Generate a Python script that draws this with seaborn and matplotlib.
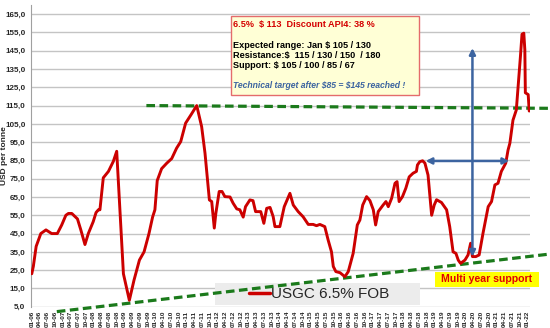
import matplotlib
matplotlib.use("Agg")
import matplotlib.pyplot as plt
from matplotlib.patches import Rectangle
import numpy as np
import pandas as pd
import seaborn as sns

# Months elapsed since January 2006 and USGC 6.5% FOB price (USD per tonne)
months = [0, 0.6, 1.7, 3.5, 5.5, 7.7, 9.9, 11.6, 13.2, 14.2, 15.5, 17.7, 19.0,
          20.6, 21.9, 23.8, 24.9, 25.8, 26.4, 27.7, 29.7, 31.6, 32.9, 35.5,
          37.8, 39.6, 41.7, 43.5, 45.4, 46.8, 47.7, 48.6, 50.3, 52.3, 54.2,
          56.1, 57.7, 59.6, 61.7, 63.9, 65.8, 67.1, 68.8, 69.7, 70.7, 71.3,
          72.6, 73.7, 74.8, 76.8, 78.0, 79.4, 80.6, 81.9, 82.8, 84.5, 85.7,
          86.7, 88.7, 89.9, 91.0, 92.3, 93.5, 94.2, 96.1, 97.8, 100.0, 101.3,
          103.2, 105.1, 107.1, 109.0, 110.3, 111.6, 113.5, 114.8, 116.1,
          116.8, 117.8, 119.4, 121.3, 122.6, 124.5, 126.1, 127.1, 128.2,
          129.7, 131.0, 132.3, 133.2, 134.2, 136.1, 137.2, 138.1, 139.4,
          140.7, 141.5, 142.3, 143.6, 144.9, 146.2, 147.7, 149.0, 149.4,
          150.3, 151.4, 152.3, 153.5, 154.9, 155.9, 156.8, 158.7, 160.7,
          161.9, 163.2, 164.3, 165.2, 166.1, 167.8, 169.0, 170.0, 170.7,
          172.0, 173.3, 174.8, 176.8, 178.1, 179.4, 180.6, 181.9, 183.6,
          184.5, 185.2, 186.4, 187.7, 188.3, 189.3, 189.9, 190.6, 191.0,
          191.2, 192.3, 192.7]
price = [23, 27, 38, 45, 47, 45, 45, 49.7, 55, 56, 56, 53, 47,
         39, 45, 51.5, 56.5, 58, 58, 75.5, 79, 84.5, 90, 23,
         8.5, 19.5, 30.5, 35, 45, 54, 58, 74, 80.5, 83.5, 86,
         91.7, 95.3, 105.4, 110, 115, 103.5, 89, 63.4, 62.5, 48, 56,
         68, 68, 65.2, 65, 61.6, 58.5, 58, 54, 59.7, 63.4, 63,
         57, 57, 50.6, 58.8, 59.3, 54.3, 48.8, 48.8, 59.7, 67, 60.6,
         57, 54.2, 50, 50, 49.3, 50, 48.8, 41.5, 35,
         27, 24.2, 23.6, 21.4, 24.2, 34.2, 49.7, 52.4, 60.6,
         65.2, 63, 58, 49.7, 57, 60.6, 62.5, 59.7, 64.3,
         72.5, 73.4, 62.5, 65.2, 69.8, 76, 78, 79, 82.5,
         84.3, 84.8, 83.5, 77, 55, 60.6, 63.5, 62, 58,
         48.8, 35, 34.2, 30.5, 28.7, 30.5, 33.3, 39.7, 32.4,
         32.4, 33.3, 45.2, 59.7, 62.5, 71.6, 72.5, 79, 83.5,
         90.7, 94.4, 107, 112.6, 123.6, 142, 154, 154.6, 145.5,
         122, 121, 112]

# Quarterly tick labels (MM-YY)
tick_months = list(range(0, 193, 3))
tick_labels = [f"{(m % 12) + 1:02d}-{(6 + m // 12) % 100:02d}" for m in tick_months]
y_ticks = list(range(5, 166, 10))

# Technical levels
resistance_x = [44.4, 200.0]
resistance_y = [115.0, 113.5]
support_x = [9.7, 200.7]
support_y = [2.3, 33.8]
target_x = 170.7
target_y = [32.4, 146.4]
breakout_x = [152.6, 184.9]
breakout_y = 84.7

df = pd.DataFrame({"month": months, "price": price})

sns.set_style("white")
plt.rcParams["font.family"] = ["Liberation Sans", "DejaVu Sans"]

W, H = 550, 328
fig = plt.figure(figsize=(5.5, 3.28), dpi=100)
ax = fig.add_axes([31 / W, 1 - 306.7 / H, (530 - 31) / W, (306.7 - 5) / H])

RED = "#cc0000"
GREEN = "#1b7a1b"
BLUE = "#3c64a0"

ax.set_ylim(5, 170)
ax.set_xlim(-0.3, 193)
ax.set_yticks(y_ticks)
ax.set_yticklabels([f"{v},0" for v in y_ticks], fontsize=5.8, fontweight="bold")
ax.set_yticks(np.arange(10, 170, 10), minor=True)
ax.set_xticks(tick_months)
ax.set_xticklabels(tick_labels, rotation=90, fontsize=4.6, fontweight="bold")
ax.grid(axis="y", color="#c4c4c4", linewidth=1.0)
ax.set_axisbelow(True)
for s in ["top", "right", "bottom"]:
    ax.spines[s].set_visible(False)
ax.spines["left"].set_color("#a0a0a0")
ax.spines["left"].set_linewidth(0.8)
ax.tick_params(axis="y", which="both", direction="out", length=2.5, width=0.6,
               color="#a0a0a0", pad=1.5)
ax.tick_params(axis="x", length=2, width=0.5, color="#a0a0a0", pad=1)

# Support and resistance lines
dash = (0, (2.7, 1.4))
ax.plot(resistance_x, resistance_y, color=GREEN, lw=2.3, ls=dash,
        clip_on=False, zorder=3)
ax.plot(support_x, support_y, color=GREEN, lw=2.3, ls=dash,
        clip_on=False, zorder=3)

# Price series
sns.lineplot(data=df, x="month", y="price", ax=ax, color=RED, linewidth=2.1,
             label="USGC 6.5% FOB", zorder=5, sort=False)
ax.set_xlabel("")
ax.set_ylabel("USD per tonne", fontsize=6, fontweight="bold")
ax.yaxis.set_label_coords((8 - 31) / 499, 0.5)

# Target projection arrows
arrow = dict(arrowstyle="<|-|>,head_length=0.35,head_width=0.18", color=BLUE,
             lw=1.8, shrinkA=0, shrinkB=0)
ax.annotate("", xy=(target_x, target_y[1]), xytext=(target_x, target_y[0]),
            arrowprops=arrow, zorder=6)
ax.annotate("", xy=(breakout_x[0], breakout_y), xytext=(breakout_x[1], breakout_y),
            arrowprops=arrow, zorder=6)

# Legend panel: above the grid, below the trend line
ax.add_patch(Rectangle((215 / W, 1 - 305 / H), 205 / W, 22 / H,
                       transform=fig.transFigure, facecolor="#ececec",
                       edgecolor="none", zorder=2, clip_on=False))
leg = ax.legend(loc="center left", bbox_to_anchor=(249 / W, 1 - 294.5 / H),
                bbox_transform=fig.transFigure, frameon=False, borderpad=0,
                borderaxespad=0, handlelength=1.4, handletextpad=0.05,
                prop={"size": 11})
leg.set_zorder(10)
for line in leg.get_lines():
    line.set_linewidth(2.5)

# Commentary box
fig.patches.append(Rectangle((231 / W, 1 - 95 / H), 188 / W, 79 / H,
                             transform=fig.transFigure, facecolor="#ffffd6",
                             edgecolor="#e46c6c", linewidth=1.0, zorder=8))
tx = 233 / W
fig.text(tx, 1 - 24 / H, r"6.5%  \$ 113  Discount API4: 38 %", color="#d40000",
         fontsize=6.6, fontweight="bold", va="center", zorder=9)
fig.text(tx, 1 - 45 / H, r"Expected range: Jan \$ 105 / 130", color="black",
         fontsize=6.6, fontweight="bold", va="center", zorder=9)
fig.text(tx, 1 - 55.5 / H, r"Resistance:\$  115 / 130 / 150  / 180", color="black",
         fontsize=6.6, fontweight="bold", va="center", zorder=9)
fig.text(tx, 1 - 66 / H, r"Support: \$ 105 / 100 / 85 / 67", color="black",
         fontsize=6.6, fontweight="bold", va="center", zorder=9)
fig.text(tx, 1 - 86 / H, r"Technical target after \$85 = \$145 reached !", color=BLUE,
         fontsize=6.2, fontweight="bold", style="italic", va="center", zorder=9)

# Support annotation
fig.patches.append(Rectangle((435 / W, 1 - 287 / H), 104 / W, 15.5 / H,
                             transform=fig.transFigure, facecolor="#ffff00",
                             edgecolor="none", zorder=8))
fig.text(487 / W, 1 - 279.5 / H, "Multi year support", color="#e00000",
         fontsize=7.6, fontweight="bold", ha="center", va="center", zorder=9)

fig.savefig("out.png", dpi=100)
